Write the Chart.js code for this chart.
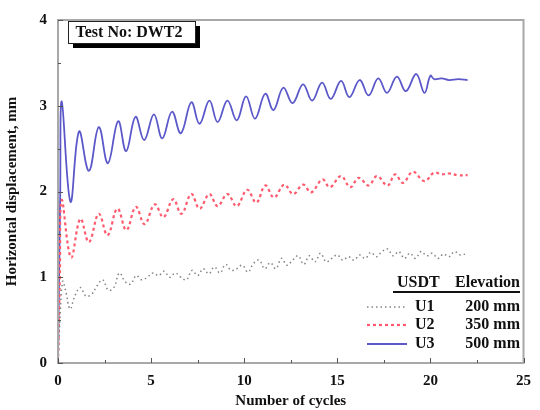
<!DOCTYPE html>
<html>
<head>
<meta charset="utf-8">
<script src="https://cdn.jsdelivr.net/npm/chart.js@4"></script>
<style>
  body { margin: 0; background: #fff; }
  canvas { display: block; }
</style>
</head>
<body>
<canvas id="cyclesChart" width="540" height="410"></canvas>
<script>
// values
const u1Cycles = [0, 0.1, 0.25, 0.4, 0.65, 0.9, 1.2, 1.5, 1.8, 2.1, 2.4, 2.7, 3.0, 3.3, 3.6, 3.9, 4.2, 4.5, 4.8, 5.1, 5.4, 5.7, 6.0, 6.3, 6.6, 6.9, 7.2, 7.5, 7.8, 8.1, 8.4, 8.7, 9.0, 9.3, 9.6, 9.9, 10.2, 10.5, 10.8, 11.1, 11.4, 11.7, 12.0, 12.3, 12.6, 12.9, 13.2, 13.5, 13.8, 14.1, 14.4, 14.7, 15.0, 15.3, 15.6, 15.9, 16.2, 16.5, 16.8, 17.1, 17.4, 17.7, 18.0, 18.3, 18.6, 18.9, 19.2, 19.5, 19.8, 20.1, 20.4, 20.7, 21.0, 21.3, 21.6, 22.0];
const u1Disp = [0, 0.5, 0.95, 0.85, 0.63, 0.78, 0.88, 0.78, 0.8, 0.9, 0.97, 0.85, 0.88, 1.05, 0.95, 0.92, 1.02, 0.97, 1.0, 1.05, 1.02, 1.07, 1.0, 1.05, 1.0, 0.97, 1.08, 1.02, 1.1, 1.04, 1.12, 1.05, 1.15, 1.08, 1.1, 1.14, 1.06, 1.16, 1.2, 1.1, 1.17, 1.1, 1.22, 1.14, 1.2, 1.25, 1.15, 1.25, 1.18, 1.28, 1.18, 1.22, 1.26, 1.2, 1.24, 1.2, 1.26, 1.22, 1.29, 1.24, 1.3, 1.33, 1.25, 1.3, 1.22, 1.28, 1.22, 1.3, 1.25, 1.28, 1.22, 1.27, 1.24, 1.3, 1.26, 1.28];

const u2Cycles = [0, 0.1, 0.2, 0.7, 1.2, 1.66, 2.19, 2.66, 3.19, 3.67, 4.18, 4.65, 5.2, 5.66, 6.19, 6.63, 7.16, 7.6, 8.13, 8.57, 9.1, 9.6, 10.16, 10.65, 11.13, 11.6, 12.15, 12.63, 13.16, 13.6, 14.2, 14.6, 15.2, 15.7, 16.15, 16.68, 17.13, 17.7, 18.1, 18.53, 19.06, 19.68, 20.2, 20.6, 21.0, 21.5, 22.0];
const u2Disp = [0, 1.0, 1.9, 1.23, 1.68, 1.41, 1.74, 1.49, 1.80, 1.55, 1.82, 1.62, 1.85, 1.70, 1.91, 1.74, 1.97, 1.80, 1.97, 1.83, 1.97, 1.83, 2.02, 1.87, 2.07, 1.93, 2.08, 1.97, 2.08, 1.99, 2.14, 2.05, 2.18, 2.05, 2.16, 2.07, 2.18, 2.07, 2.20, 2.10, 2.23, 2.12, 2.22, 2.20, 2.21, 2.19, 2.19];

const u3Cycles = [0, 0.12, 0.2, 0.67, 1.13, 1.66, 2.19, 2.68, 3.23, 3.66, 4.16, 4.63, 5.15, 5.6, 6.12, 6.6, 7.16, 7.6, 8.13, 8.57, 9.1, 9.6, 10.1, 10.58, 11.13, 11.57, 12.1, 12.6, 13.16, 13.65, 14.18, 14.65, 15.2, 15.65, 16.2, 16.68, 17.2, 17.67, 18.2, 18.68, 19.24, 19.68, 20.0, 20.2, 20.6, 21.0, 21.5, 22.0];
const u3Disp = [0, 2.0, 3.05, 1.88, 2.70, 2.24, 2.75, 2.33, 2.82, 2.47, 2.87, 2.60, 2.90, 2.62, 2.93, 2.68, 3.04, 2.79, 3.06, 2.81, 3.06, 2.83, 3.11, 2.85, 3.14, 2.95, 3.21, 3.03, 3.25, 3.06, 3.27, 3.08, 3.29, 3.10, 3.30, 3.12, 3.32, 3.15, 3.34, 3.17, 3.37, 3.15, 3.35, 3.31, 3.32, 3.30, 3.31, 3.30];

const seriesNames = ['U1', 'U2', 'U3'];
const elevations = ['200 mm', '350 mm', '500 mm'];
const xTicks = [0, 5, 10, 15, 20, 25];
const yTicks = [0, 1, 2, 3, 4];

const serif = '"Liberation Serif", "DejaVu Serif", serif';

function toPoints(xs, ys) {
    return xs.map((x, i) => ({ x: x, y: ys[i] }));
}

// inside tick marks, frame, test-number box and the table legend
const decorations = {
    id: 'decorations',
    afterDraw(chart) {
        const ctx = chart.ctx;
        const area = chart.chartArea;
        const xs = chart.scales.x;
        const ys = chart.scales.y;
        ctx.save();

        ctx.strokeStyle = '#a8a8a8';
        ctx.lineWidth = 2;
        ctx.strokeRect(area.left, area.top, area.right - area.left, area.bottom - area.top);

        ctx.strokeStyle = '#555';
        ctx.lineWidth = 1;
        for (let v = 0; v <= 25; v += 2.5) {
            const px = Math.round(xs.getPixelForValue(v)) + 0.5;
            const len = v % 5 === 0 ? 5 : 3;
            ctx.beginPath();
            ctx.moveTo(px, area.bottom);
            ctx.lineTo(px, area.bottom - len);
            ctx.stroke();
        }
        for (let v = 0; v <= 4; v += 0.5) {
            const py = Math.round(ys.getPixelForValue(v)) + 0.5;
            const len = v % 1 === 0 ? 5 : 3;
            ctx.beginPath();
            ctx.moveTo(area.left, py);
            ctx.lineTo(area.left + len, py);
            ctx.stroke();
        }

        // Test No box with drop shadow
        ctx.fillStyle = '#000';
        ctx.fillRect(73, 26, 127, 22);
        ctx.fillStyle = '#fff';
        ctx.fillRect(68, 21, 127, 22);
        ctx.strokeStyle = '#222';
        ctx.lineWidth = 1;
        ctx.strokeRect(68.5, 21.5, 127, 22);
        ctx.fillStyle = '#111';
        ctx.font = 'bold 16px ' + serif;
        ctx.textAlign = 'center';
        ctx.textBaseline = 'middle';
        ctx.fillText('Test No: DWT2', 129, 33);

        // legend table
        ctx.font = 'bold 16px ' + serif;
        ctx.textAlign = 'left';
        ctx.fillText('USDT', 397, 283);
        ctx.textAlign = 'right';
        ctx.fillText('Elevation', 520, 283);
        ctx.fillRect(393, 291, 127, 2);

        const rowY = [307, 325, 344];
        chart.data.datasets.forEach((ds, i) => {
            ctx.strokeStyle = ds.borderColor;
            ctx.lineWidth = ds.borderWidth;
            ctx.setLineDash(ds.borderDash || []);
            ctx.beginPath();
            ctx.moveTo(367, rowY[i]);
            ctx.lineTo(407, rowY[i]);
            ctx.stroke();
            ctx.setLineDash([]);
            ctx.textAlign = 'left';
            ctx.fillText(seriesNames[i], 415, rowY[i]);
            ctx.textAlign = 'right';
            ctx.fillText(elevations[i], 520, rowY[i]);
        });
        ctx.restore();
    }
};

const ctx = document.getElementById('cyclesChart').getContext('2d');
new Chart(ctx, {
    type: 'line',
    data: {
        datasets: [{
            label: seriesNames[0],
            data: toPoints(u1Cycles, u1Disp),
            borderColor: 'rgba(110,110,110,0.85)',
            borderWidth: 1.5,
            borderDash: [1.5, 3],
            pointRadius: 0,
            tension: 0.4
        }, {
            label: seriesNames[1],
            data: toPoints(u2Cycles, u2Disp),
            borderColor: '#ff5a6e',
            borderWidth: 2.2,
            borderDash: [3, 3],
            pointRadius: 0,
            tension: 0.4
        }, {
            label: seriesNames[2],
            data: toPoints(u3Cycles, u3Disp),
            borderColor: '#5b58c9',
            borderWidth: 1.8,
            pointRadius: 0,
            tension: 0.4
        }]
    },
    options: {
        responsive: false,
        animation: false,
        layout: { padding: { top: 15, right: 10, left: 0, bottom: 0 } },
        plugins: {
            legend: { display: false },
            tooltip: { enabled: false }
        },
        scales: {
            x: {
                type: 'linear',
                min: 0,
                max: 25,
                afterBuildTicks: s => { s.ticks = xTicks.map(v => ({ value: v })); },
                afterFit: s => { s.height = 47; },
                grid: { display: false, drawTicks: false },
                border: { display: false },
                ticks: {
                    padding: 9,
                    color: '#111',
                    font: { family: serif, size: 15, weight: 'bold' }
                },
                title: {
                    display: true,
                    text: 'Number of cycles',
                    color: '#111',
                    padding: { top: 0, bottom: 0 },
                    font: { family: serif, size: 15, weight: 'bold' }
                }
            },
            y: {
                min: 0,
                max: 4,
                afterBuildTicks: s => { s.ticks = yTicks.map(v => ({ value: v })); },
                afterFit: s => { s.width = 58; },
                grid: { display: false, drawTicks: false },
                border: { display: false },
                ticks: {
                    padding: 11,
                    color: '#111',
                    font: { family: serif, size: 15, weight: 'bold' }
                },
                title: {
                    display: true,
                    text: 'Horizontal displacement, mm',
                    color: '#111',
                    padding: { top: 3, bottom: 0 },
                    font: { family: serif, size: 15, weight: 'bold' }
                }
            }
        }
    },
    plugins: [decorations]
});
</script>
</body>
</html>
